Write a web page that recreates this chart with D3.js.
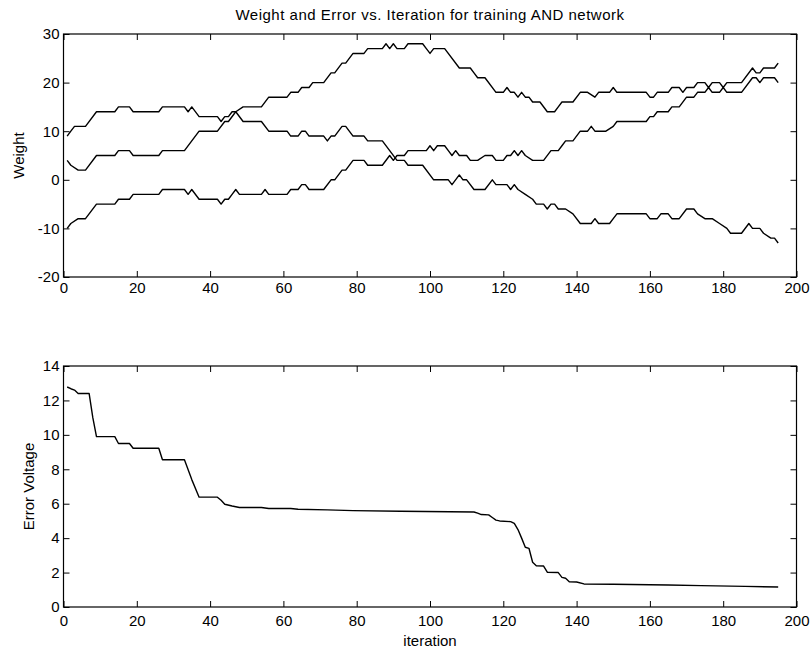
<!DOCTYPE html>
<html>
<head>
<meta charset="utf-8">
<script src="https://cdn.jsdelivr.net/npm/d3@7"></script>
<style>
  html, body { margin: 0; padding: 0; background: #fff; }
  svg { display: block; }
  text { font-family: "Liberation Sans", Arial, Helvetica, sans-serif; fill: #000; }
</style>
</head>
<body>
<svg id="chart" width="810" height="652"></svg>
<script>
// ---------------- data ----------------
const chartTitle = "Weight and Error vs. Iteration for training AND network";
const xTicks = [0, 20, 40, 60, 80, 100, 120, 140, 160, 180, 200];
const weightTicks = [-20, -10, 0, 10, 20, 30];
const errorTicks = [0, 2, 4, 6, 8, 10, 12, 14];

// weight 1 (starts near 10, ends near -13)
const iterW1 = [1,2,3,6,9,14,15,18,19,26,27,33,34,35,37,42,43,44,45,46,47,49,54,56,61,62,64,65,66,67,71,72,73,74,76,77,79,82,83,87,91,93,94,98,101,105,106,108,109,110,112,115,117,118,121,122,123,124,126,128,129,131,132,133,134,135,137,139,141,144,145,146,149,150,151,159,160,162,163,165,166,168,170,172,173,175,177,179,181,182,185,187,188,190,191,193,194,195];
const valW1  = [9,10,11,11,14,14,15,15,14,14,15,15,14,15,13,13,12,13,13,14,14,12,12,10,10,9,9,10,10,9,9,8,9,9,11,11,9,9,8,8,4,4,3,3,0,0,-1,1,0,0,-2,-2,0,-1,-1,-2,-1,-2,-3,-4,-5,-5,-6,-5,-5,-6,-6,-7,-9,-9,-8,-9,-9,-8,-7,-7,-8,-8,-7,-7,-8,-8,-6,-6,-7,-8,-8,-9,-10,-11,-11,-9,-10,-10,-11,-12,-12,-13];

// weight 2 (starts near 4, peaks at 28, ends near 24)
const iterW2 = [1,2,4,6,9,14,15,18,19,26,27,33,37,42,44,45,47,49,54,56,61,62,64,65,67,68,71,73,74,76,77,79,82,83,87,88,89,90,91,93,94,98,99,100,101,104,108,111,112,113,115,118,120,121,122,123,124,125,126,127,128,130,132,134,135,136,139,141,143,145,146,149,150,151,159,160,161,162,165,166,168,169,170,172,173,175,176,177,179,180,181,185,188,189,190,191,194,195];
const valW2  = [4,3,2,2,5,5,6,6,5,5,6,6,10,10,12,12,14,15,15,17,17,18,18,19,19,20,20,22,22,24,24,26,26,27,27,28,27,28,27,27,28,28,27,26,27,27,23,23,22,21,21,18,18,19,18,18,17,18,17,17,16,16,14,14,15,16,16,18,18,17,18,18,19,18,18,17,17,18,18,19,19,18,19,19,20,20,19,20,20,19,20,20,23,22,22,23,23,24];

// weight 3 (starts near -10, ends near 20)
const iterW3 = [1,2,4,6,9,14,15,18,19,26,27,33,34,35,37,42,43,44,45,46,47,48,54,55,56,61,62,64,65,66,67,71,73,74,76,77,79,82,83,87,89,90,91,93,94,99,100,101,102,104,105,106,107,108,110,111,113,115,117,118,120,121,122,123,124,125,126,128,131,133,135,136,137,139,141,143,144,145,148,150,151,159,160,161,162,165,166,168,170,172,173,175,176,177,179,180,181,185,188,189,190,191,194,195];
const valW3  = [-10,-9,-8,-8,-5,-5,-4,-4,-3,-3,-2,-2,-3,-2,-4,-4,-5,-4,-4,-3,-2,-3,-3,-2,-3,-3,-2,-2,-1,-1,-2,-2,0,0,2,2,4,4,3,3,5,4,5,5,6,6,7,6,7,7,6,5,6,5,5,4,4,5,5,4,4,5,5,6,5,6,5,4,4,6,6,7,8,8,10,10,11,10,10,11,12,12,13,13,14,14,15,15,17,17,18,18,19,18,18,19,18,18,21,21,20,21,21,20];

// error voltage
const iterErr = [1,2,3,4,7,8,9,14,15,18,19,26,27,33,35,37,42,43,44,46,48,54,56,62,64,72,79,92,112,113,114,116,117,118,119,122,123,124,125,126,127,128,129,131,132,135,136,137,138,140,142,150,165,174,186,195];
const valErr  = [12.78,12.68,12.6,12.4,12.4,11.0,9.9,9.9,9.5,9.5,9.22,9.22,8.55,8.55,7.4,6.38,6.38,6.2,5.97,5.87,5.78,5.78,5.72,5.72,5.68,5.64,5.6,5.56,5.52,5.45,5.37,5.35,5.2,5.05,5.0,4.96,4.86,4.5,4.0,3.47,3.41,2.6,2.4,2.38,2.02,2.0,1.72,1.67,1.47,1.45,1.34,1.32,1.28,1.24,1.2,1.16];

// ---------------- drawing ----------------
const svg = d3.select("#chart");
svg.append("rect").attr("width", 810).attr("height", 652).attr("fill", "#fff");

const left = 63.5, right = 796.5;
const FS = 15;
const fmt = d => String(d).replace("\u2212", "-");

function panel(cfg) {
  const x = d3.scaleLinear().domain([0, 200]).range([left, right]);
  const y = d3.scaleLinear().domain(cfg.yDomain).range([cfg.bottom, cfg.top]);
  const g = svg.append("g");

  const styleAxis = sel => {
    sel.select(".domain").remove();
    sel.selectAll(".tick line").attr("stroke", "#000").attr("stroke-width", 1);
    sel.selectAll("text").attr("font-size", FS).attr("font-family", "Liberation Sans, Arial, sans-serif").attr("fill", "#000");
  };

  g.append("g").attr("transform", `translate(0,${cfg.bottom})`)
    .call(d3.axisBottom(x).tickValues(xTicks).tickFormat(fmt).tickSizeInner(-6).tickSizeOuter(0).tickPadding(cfg.xPad))
    .call(styleAxis);
  g.append("g").attr("transform", `translate(0,${cfg.top})`)
    .call(d3.axisTop(x).tickValues(xTicks).tickFormat("").tickSizeInner(-6).tickSizeOuter(0))
    .call(styleAxis);
  g.append("g").attr("transform", `translate(${left},0)`)
    .call(d3.axisLeft(y).tickValues(cfg.yTicks).tickFormat(d => String(d)).tickSizeInner(-6).tickSizeOuter(0).tickPadding(4))
    .call(styleAxis);
  g.append("g").attr("transform", `translate(${right},0)`)
    .call(d3.axisRight(y).tickValues(cfg.yTicks).tickFormat("").tickSizeInner(-6).tickSizeOuter(0))
    .call(styleAxis);

  g.append("rect")
    .attr("x", left).attr("y", cfg.top)
    .attr("width", right - left).attr("height", cfg.bottom - cfg.top)
    .attr("fill", "none").attr("stroke", "#000").attr("stroke-width", 1.2);

  const line = d3.line().x(d => x(d[0])).y(d => y(d[1]));
  cfg.series.forEach(s => {
    const pts = s.iters.map((it, i) => [it, s.vals[i]]);
    g.append("path").datum(pts)
      .attr("d", line)
      .attr("fill", "none").attr("stroke", "#000")
      .attr("stroke-width", 1.4).attr("stroke-linejoin", "round");
  });

  g.append("text")
    .attr("transform", `translate(${cfg.yLabelX},${(cfg.top + cfg.bottom) / 2}) rotate(-90)`)
    .attr("text-anchor", "middle").attr("font-size", FS)
    .text(cfg.yLabel);
}

panel({
  top: 34, bottom: 277, yDomain: [-20, 30], yTicks: weightTicks, xPad: 5,
  yLabel: "Weight", yLabelX: 24,
  series: [
    { iters: iterW1, vals: valW1 },
    { iters: iterW2, vals: valW2 },
    { iters: iterW3, vals: valW3 }
  ]
});

panel({
  top: 366, bottom: 607, yDomain: [0, 14], yTicks: errorTicks, xPad: 8,
  yLabel: "Error Voltage", yLabelX: 34,
  series: [ { iters: iterErr, vals: valErr } ]
});

svg.append("text")
  .attr("x", (left + right) / 2).attr("y", 20)
  .attr("text-anchor", "middle").attr("font-size", FS)
  .attr("letter-spacing", 0.5)
  .text(chartTitle);

svg.append("text")
  .attr("x", (left + right) / 2).attr("y", 646)
  .attr("text-anchor", "middle").attr("font-size", FS)
  .text("iteration");
</script>
</body>
</html>
